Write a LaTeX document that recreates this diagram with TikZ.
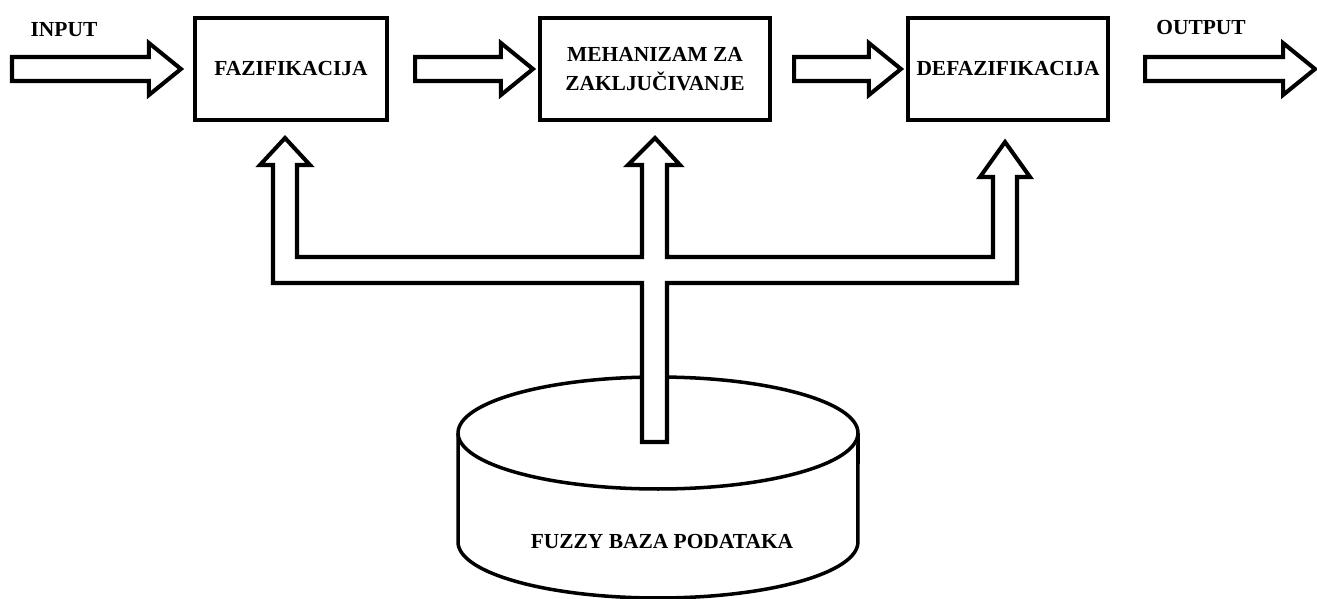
\documentclass[tikz,border=0pt]{standalone}
\usepackage{fontspec}
\setmainfont{Liberation Serif}
\usetikzlibrary{calc}

\begin{document}
\begin{tikzpicture}[x=0.02cm, y=-0.02cm,
    lbl/.style={font=\bfseries\fontsize{12.2}{16.5}\selectfont, inner sep=0pt},
    box/.style={draw, line width=2.4pt, minimum height=2.04cm, align=center,
      font=\bfseries\fontsize{12.2}{16.5}\selectfont},
    fatarrow/.style={draw, line width=2.3pt, fill=white, line join=miter,
      to path={let \p1=(\tikztostart), \p2=(\tikztotarget) in
        (\x1,\y1+0.24cm) -- (\x2-0.64cm,\y1+0.24cm) -- (\x2-0.64cm,\y1+0.52cm)
        -- (\x2,\y1) -- (\x2-0.64cm,\y1-0.52cm) -- (\x2-0.64cm,\y1-0.24cm)
        -- (\x1,\y1-0.24cm) -- cycle}}]
  \useasboundingbox (0,0) rectangle (1317,598);
  % the three blocks
  \node[box, minimum width=3.84cm] (faz) at (291,69) {FAZIFIKACIJA};
  \node[box, minimum width=4.6cm] (meh) at (655,69) {MEHANIZAM ZA\\ZAKLJUČIVANJE};
  \node[box, minimum width=4.0cm] (def) at (1008,69) {DEFAZIFIKACIJA};
  % input / output labels
  \node[lbl] (inlbl) at (64,30) {INPUT};
  \node[lbl] (outlbl) at (1201,28) {OUTPUT};
  \coordinate (instart) at (12,69);
  \coordinate (outend) at (1315,69);
  % block arrows along the chain
  \draw[fatarrow] (instart) to ([xshift=-0.24cm]faz.west);
  \draw[fatarrow] ([xshift=0.52cm]faz.east) to ([xshift=-0.1cm]meh.west);
  \draw[fatarrow] ([xshift=0.44cm]meh.east) to ([xshift=-0.1cm]def.west);
  \draw[fatarrow] ([xshift=0.7cm]def.east) to (outend);
  % database cylinder
  \draw[line width=2pt] (458,433) -- (458,542)
    arc[start angle=180, end angle=360, x radius=4cm, y radius=1.12cm] -- (858,433);
  \draw[line width=2pt] (658,433) ellipse[x radius=4cm, y radius=1.12cm];
  \node[lbl] (db) at (662,542) {FUZZY BAZA PODATAKA};
  % branching arrow from the database up to the blocks
  \draw[line width=2.3pt, fill=white, line join=miter]
    (273,283) -- (273,165) -- (260,165) -- (285,138) -- (310,165) -- (297,165)
    -- (297,257) -- (642,257) -- (642,165) -- (628,165) -- (655,138) -- (680,165)
    -- (667,165) -- (667,257) -- (993,257) -- (993,177) -- (980,177) -- (1005,142)
    -- (1030,177) -- (1017,177) -- (1017,283) -- (667,283) -- (667,442)
    -- (642,442) -- (642,283) -- cycle;
\end{tikzpicture}
\end{document}
